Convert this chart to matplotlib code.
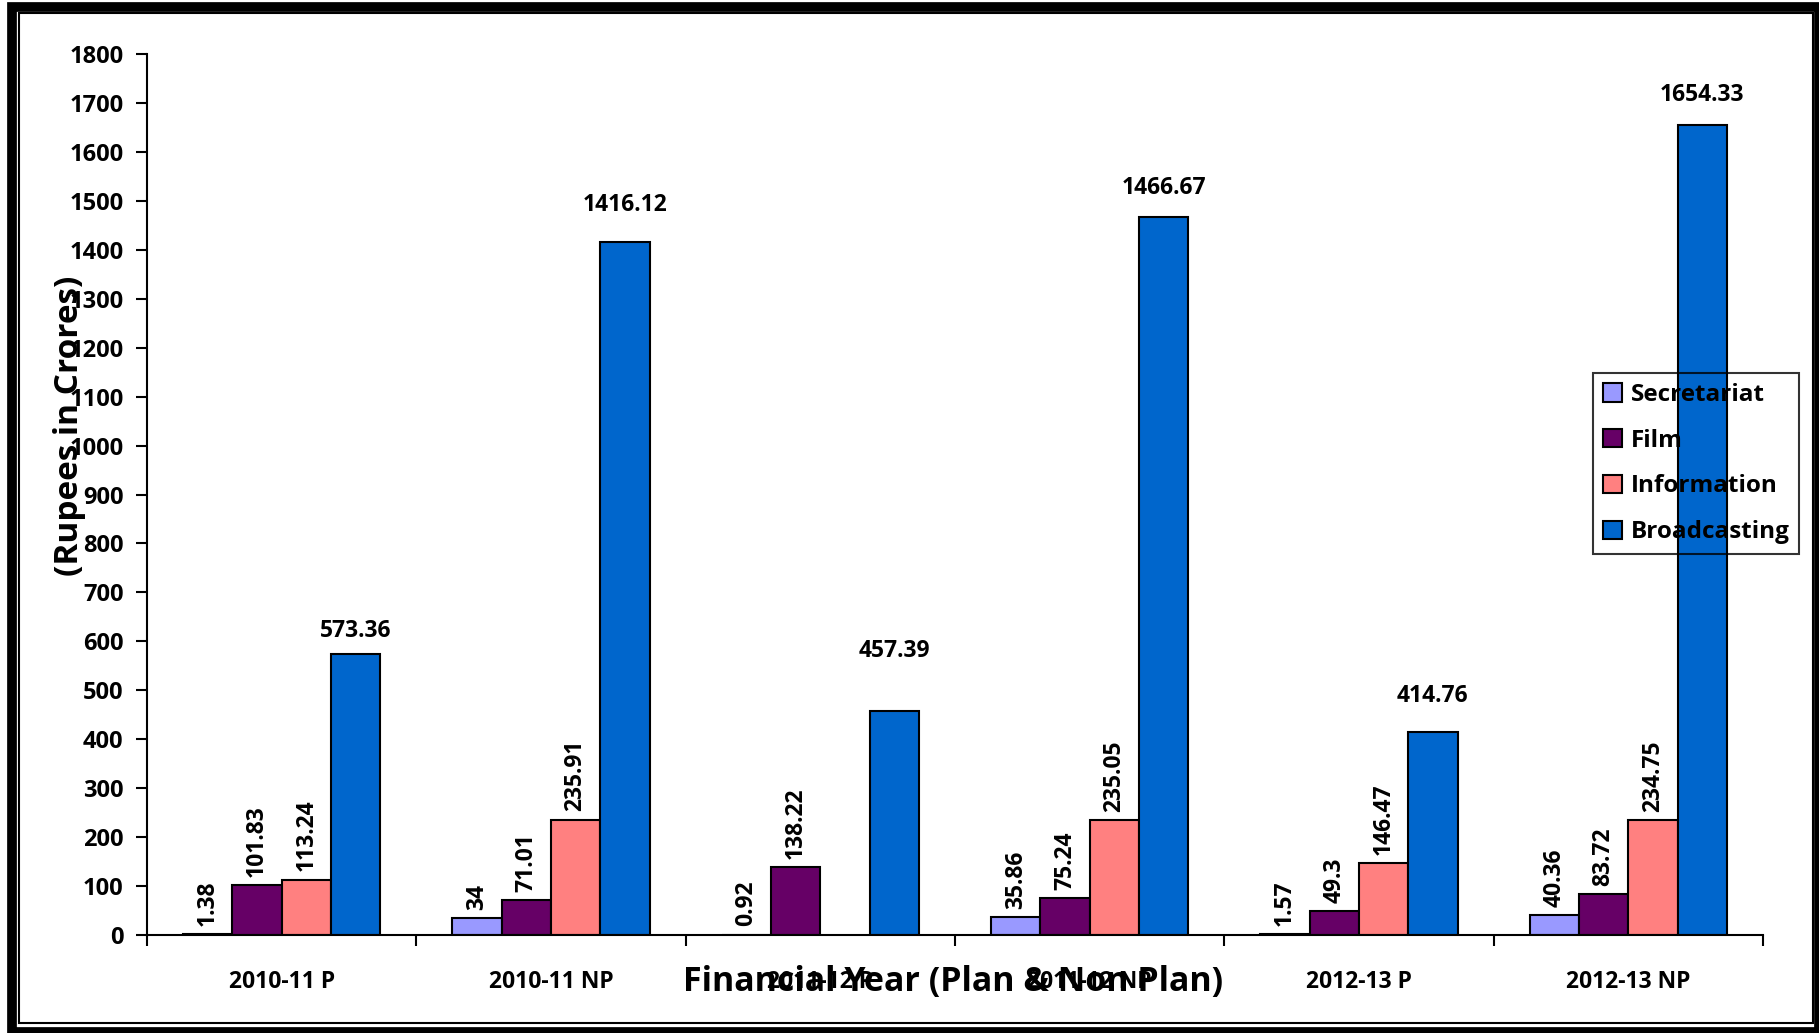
import numpy as np
import matplotlib.pyplot as plt
from matplotlib.patches import Rectangle

plt.rcParams['font.family'] = ['Open Sans', 'DejaVu Sans']
plt.rcParams['font.weight'] = 'bold'

# budget by wing, Rs crore
categories = ['2010-11 P', '2010-11 NP', '2011-12 P', '2011-12 NP', '2012-13 P', '2012-13 NP']
secretariat = [1.38, 34, 0.92, 35.86, 1.57, 40.36]
film = [101.83, 71.01, 138.22, 75.24, 49.3, 83.72]
information = [113.24, 235.91, np.nan, 235.05, 146.47, 234.75]
broadcasting = [573.36, 1416.12, 457.39, 1466.67, 414.76, 1654.33]

series = [secretariat, film, information, broadcasting]
names = ['Secretariat', 'Film', 'Information', 'Broadcasting']
colors = ['#9999FF', '#660066', '#FF8080', '#0066CC']

W, H = 1819, 1033
fig = plt.figure(figsize=(W / 100, H / 100), dpi=100)
ax = fig.add_axes([147 / W, 1 - 935 / H, (1763 - 147) / W, (935 - 54) / H])

bw = 0.183
x = np.arange(len(categories))
# gap above the broadcasting bars, in pixels
top_pad = [11, 25, 48, 17, 24, 18]

for j, (vals, name, col) in enumerate(zip(series, names, colors)):
    xs = x + (j - 1.5) * bw
    ax.bar(xs, vals, bw, color=col, edgecolor='black', linewidth=1.5, label=name, zorder=2)
    for i, v in enumerate(vals):
        if np.isnan(v):
            continue
        if j == 3:
            ax.annotate('%g' % v, (xs[i], v), xytext=(0, top_pad[i] * 0.72),
                        textcoords='offset points', ha='center', va='bottom',
                        fontsize=16.5, fontweight='bold')
        else:
            ax.annotate('%g' % v, (xs[i], v), xytext=(0, 6),
                        textcoords='offset points', ha='center', va='bottom',
                        rotation=90, fontsize=16.5, fontweight='bold')

ax.set_xlim(-0.5, len(categories) - 0.5)
ax.set_ylim(0, 1800)
ax.set_yticks(np.arange(0, 1801, 100))
ax.tick_params(axis='y', length=8, width=1.5, pad=9, labelsize=17)

ax.set_xticks(np.arange(-0.5, len(categories), 1))
ax.set_xticklabels([])
ax.set_xticks(x, minor=True)
ax.set_xticklabels(categories, minor=True)
ax.tick_params(axis='x', which='major', length=8, width=1.5)
ax.tick_params(axis='x', which='minor', length=0, pad=25, labelsize=16.5)

for s in ['top', 'right']:
    ax.spines[s].set_visible(False)
for s in ['left', 'bottom']:
    ax.spines[s].set_linewidth(1.5)

fig.text(953 / W, 1 - 982 / H, 'Financial Year (Plan & Non Plan)',
         ha='center', va='center', fontsize=24.5, fontweight='bold')
fig.text(70 / W, 1 - 426 / H, '(Rupees in Crores)', rotation=90,
         ha='center', va='center', fontsize=24, fontweight='bold')

leg = ax.legend(loc='upper left', bbox_to_anchor=(1593 / W, 1 - 373 / H),
                bbox_transform=fig.transFigure, fontsize=17.5, frameon=True,
                fancybox=False, handlelength=0.8, handleheight=0.8,
                handletextpad=0.35, labelspacing=0.9, borderpad=0.4,
                borderaxespad=0)
leg.get_frame().set_facecolor('none')
leg.get_frame().set_edgecolor('black')
leg.get_frame().set_linewidth(1.5)

# double page border
fig.patches.append(Rectangle((12 / W, 1 / H), (1819 - 12) / W, (1032 - 6.5) / H,
                             transform=fig.transFigure, fill=False,
                             edgecolor='black', linewidth=7))
fig.patches.append(Rectangle((19 / W, 1 - 1023 / H), (1813 - 19) / W, (1023 - 13) / H,
                             transform=fig.transFigure, fill=False,
                             edgecolor='black', linewidth=1.5))

fig.savefig('out.png', dpi=100)
